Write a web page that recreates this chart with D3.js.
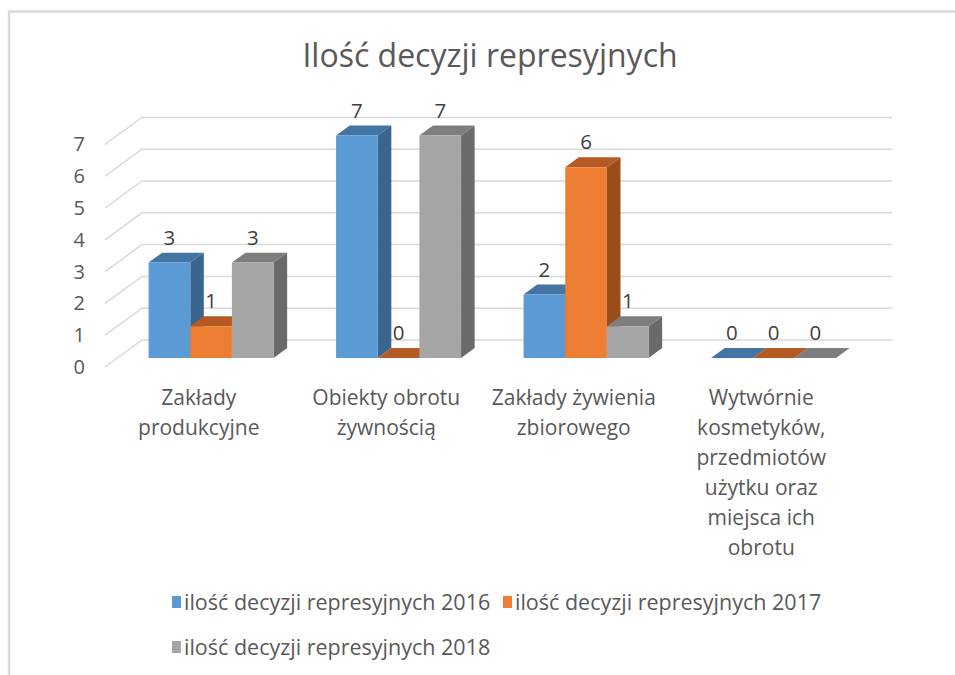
<!DOCTYPE html>
<html>
<head>
<meta charset="utf-8">
<script src="https://cdn.jsdelivr.net/npm/d3@7"></script>
<style>
  html, body { margin: 0; padding: 0; background: #ffffff; }
  svg { display: block; font-family: "Open Sans", "Noto Sans", sans-serif; }
</style>
</head>
<body>
<svg id="chart" width="955" height="675"></svg>
<script>
// Chart content
const title = "Ilość decyzji represyjnych";
const categories = [
  ["Zakłady", "produkcyjne"],
  ["Obiekty obrotu", "żywnością"],
  ["Zakłady żywienia", "zbiorowego"],
  ["Wytwórnie", "kosmetyków,", "przedmiotów", "użytku oraz", "miejsca ich", "obrotu"]
];
const seriesNames = [
  "ilość decyzji represyjnych 2016",
  "ilość decyzji represyjnych 2017",
  "ilość decyzji represyjnych 2018"
];
const values2016 = [3, 7, 2, 0];
const values2017 = [1, 0, 6, 0];
const values2018 = [3, 7, 1, 0];
const yTicks = [0, 1, 2, 3, 4, 5, 6, 7];

const seriesValues = [values2016, values2017, values2018];
const palette = [
  { front: "#5B9BD5", top: "#4374A3", side: "#39658F" },
  { front: "#ED7D31", top: "#B55A22", side: "#9A4D1B" },
  { front: "#A5A5A5", top: "#7E7E7E", side: "#6A6A6A" }
];

const svg = d3.select("#chart");

// Frame
svg.append("path")
  .attr("d", "M9,675 L9,11.5 L955,11.5")
  .attr("fill", "none").attr("stroke", "#D9D9D9").attr("stroke-width", 2.5);

// Title
svg.append("text")
  .attr("x", 490).attr("y", 67)
  .attr("text-anchor", "middle")
  .attr("font-size", 32).attr("fill", "#595959")
  .text(title);

// Oblique 3D projection: front floor plane plus a depth vector
const floorLeft = 105, floorWidth = 750;
const depth = { dx: 37, dy: -27 };
const y = d3.scaleLinear().domain([0, 7]).range([367, 367 - 7 * 31.8]);
const proj = (xf, v, z) => [xf + depth.dx * z, y(v) + depth.dy * z];

const x0 = d3.scaleBand()
  .domain(d3.range(categories.length))
  .range([floorLeft, floorLeft + floorWidth])
  .paddingInner(1 / 3).paddingOuter(1 / 6);
const x1 = d3.scaleBand()
  .domain(d3.range(seriesNames.length))
  .range([0, x0.bandwidth()]);

// Gridlines on the back wall and the left side wall
const grid = svg.append("g").attr("stroke", "#D9D9D9").attr("stroke-width", 1.5).attr("fill", "none");
yTicks.forEach(v => {
  const a = proj(floorLeft, v, 0), b = proj(floorLeft, v, 1), c = proj(floorLeft + floorWidth, v, 1);
  grid.append("path").attr("d", `M${a[0]},${a[1]}L${b[0]},${b[1]}L${c[0]},${c[1]}`);
});

// Value axis labels
svg.append("g").selectAll("text").data(yTicks).join("text")
  .attr("x", 85).attr("y", d => y(d))
  .attr("dy", "0.35em").attr("text-anchor", "end")
  .attr("font-size", 20).attr("fill", "#595959")
  .text(d => d);

// Bars as 3D boxes between two depths
const zFront = 1 / 3, zBack = 0.70;
const poly = pts => "M" + pts.map(p => p.join(",")).join("L") + "Z";
const bars = svg.append("g");
categories.forEach((cat, i) => {
  seriesValues.forEach((vals, j) => {
    const v = vals[i];
    const xa = x0(i) + x1(j), xb = xa + x1.bandwidth();
    const col = palette[j];
    const g = bars.append("g");
    // right side
    g.append("path").attr("fill", col.side).attr("d", poly([
      proj(xb, 0, zFront), proj(xb, v, zFront), proj(xb, v, zBack), proj(xb, 0, zBack)
    ]));
    // top
    g.append("path").attr("fill", col.top).attr("d", poly([
      proj(xa, v, zFront), proj(xb, v, zFront), proj(xb, v, zBack), proj(xa, v, zBack)
    ]));
    // front
    if (v > 0) {
      g.append("path").attr("fill", col.front).attr("d", poly([
        proj(xa, 0, zFront), proj(xb, 0, zFront), proj(xb, v, zFront), proj(xa, v, zFront)
      ]));
    }
  });
});

// Data labels
const labels = svg.append("g").attr("font-size", 20.5).attr("fill", "#404040").attr("text-anchor", "middle");
categories.forEach((cat, i) => {
  seriesValues.forEach((vals, j) => {
    const v = vals[i];
    const p = proj(x0(i) + x1(j) + x1.bandwidth() / 2, v, zFront);
    labels.append("text").attr("x", p[0]).attr("y", p[1] - 25).attr("dy", "0.35em").text(v);
  });
});

// Category labels
const catG = svg.append("g").attr("font-size", 21).attr("fill", "#595959").attr("text-anchor", "middle");
categories.forEach((lines, i) => {
  const cx = x0(i) + x0.bandwidth() / 2;
  const t = catG.append("text").attr("x", cx).attr("y", 405);
  lines.forEach((ln, k) => {
    t.append("tspan").attr("x", cx).attr("y", 405 + k * 30).text(ln);
  });
});

// Legend
const legendItems = [
  { name: seriesNames[0], color: palette[0].front, x: 172, y: 602 },
  { name: seriesNames[1], color: palette[1].front, x: 503, y: 602 },
  { name: seriesNames[2], color: palette[2].front, x: 172, y: 647 }
];
const leg = svg.append("g");
legendItems.forEach(it => {
  leg.append("rect").attr("x", it.x).attr("y", it.y - 6).attr("width", 9).attr("height", 12).attr("fill", it.color);
  leg.append("text").attr("x", it.x + 12).attr("y", it.y).attr("dy", "0.35em")
    .attr("font-size", 21.5).attr("fill", "#595959").text(it.name);
});
</script>
</body>
</html>
